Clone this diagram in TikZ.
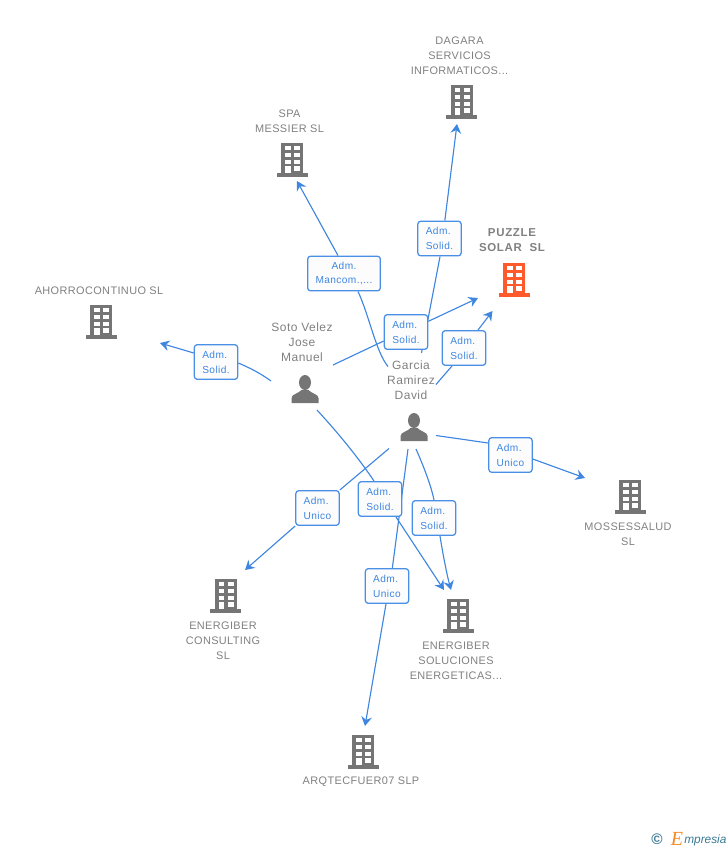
\documentclass[tikz,border=0pt]{standalone}
\usepackage{fontspec}
\setmainfont{Liberation Sans}
\usetikzlibrary{arrows.meta,backgrounds}
\newfontfamily\serifit{Liberation Serif}
\definecolor{linkblue}{HTML}{3F86E0}
\definecolor{edgeblue}{HTML}{4A8FE6}
\definecolor{icongray}{HTML}{757575}
\definecolor{namegray}{HTML}{808080}
\definecolor{orangeicon}{HTML}{FF5A2B}
\definecolor{brandteal}{HTML}{3A7A96}
\definecolor{brandorange}{HTML}{F58A1F}
\definecolor{boxfill}{HTML}{FCFCFD}
\tikzset{
  x=0.75pt,y=-0.75pt,
  link/.style={draw=linkblue,line width=0.85pt},
  linkarrow/.style={link,-{Stealth[length=7pt,width=8pt,inset=2.4pt]}},
  rolebox/.style={draw=edgeblue,line width=0.95pt,rounded corners=2.2pt,fill=boxfill,
    minimum width=32.5pt,minimum height=26pt,inner sep=0pt,align=left,
    text=linkblue,font=\fontsize{7.6}{11.2}\selectfont\addfontfeatures{LetterSpace=4}},
  widebox/.style={rolebox,minimum width=54.5pt,align=center},
  company/.style={align=center,text=namegray,inner sep=0pt,font=\fontsize{8.2}{11.2}\selectfont\addfontfeatures{LetterSpace=3.5}},
  mainco/.style={company,font=\bfseries\fontsize{8.6}{11.2}\selectfont\addfontfeatures{LetterSpace=6}},
  person/.style={align=center,text=namegray,inner sep=0pt,font=\fontsize{9}{11.2}\selectfont\addfontfeatures{LetterSpace=4}},
  pics/buildingicon/.style={code={
    \fill[#1] (-11,-16) rectangle (11,14);
    \fill[#1] (-15.5,14) rectangle (15.5,18);
    \foreach \a/\b in {-13.3/-9.3,-6/-2.3,0.7/4.7}{
      \fill[white] (-7,\a) rectangle (-1.2,\b);
      \fill[white] (2.2,\a) rectangle (8,\b);
    }
    \fill[white] (-7,7.3) rectangle (-1.2,14);
    \fill[white] (2.2,7.3) rectangle (8,11.5);
  }},
  pics/personicon/.style={code={
    \fill[icongray] (0,-6.5) ellipse (6 and 7.5);
    \fill[icongray] (-13.5,14) -- (-13.5,9) .. controls (-13.5,5) and (-6,4.5) .. (-3.5,1)
      -- (3.5,1) .. controls (6,4.5) and (13.5,5) .. (13.5,9) -- (13.5,14) -- cycle;
  }}
}
\begin{document}
\begin{tikzpicture}
\useasboundingbox (0,0) rectangle (728,850);

% free ends of connectors
\coordinate (sotoA) at (271,381); \coordinate (ahorroEnd) at (160,343);
\coordinate (garciaS) at (388,366.5); \coordinate (spaEnd) at (297,181);
\coordinate (sotoP) at (333,365); \coordinate (puzzleEndA) at (478,298);
\coordinate (garciaD) at (421.5,353); \coordinate (dagaraEnd) at (457,124);
\coordinate (garciaP) at (436,384.5); \coordinate (puzzleEndB) at (492.5,311);
\coordinate (garciaM) at (436,435.5); \coordinate (mossesEnd) at (585,478);
\coordinate (garciaC) at (389,448.5); \coordinate (consultEnd) at (245,570);
\coordinate (sotoE) at (317,410); \coordinate (solucEndA) at (444,590);
\coordinate (garciaE) at (416,449); \coordinate (solucEndB) at (451,590);
\coordinate (garciaQ) at (408,449); \coordinate (arqEnd) at (365,726);

% role boxes
\node[rolebox] (r1) at (216,362) {Adm.\\Solid.};
\node[widebox] (r2) at (344,273.5) {Adm.\\Mancom.,...};
\node[rolebox] (r3) at (439.5,238.5) {Adm.\\Solid.};
\node[rolebox] (r4) at (406,332) {Adm.\\Solid.};
\node[rolebox] (r5) at (464,348) {Adm.\\Solid.};
\node[rolebox] (r6) at (510.5,455) {Adm.\\Unico};
\node[rolebox] (r7) at (317.5,508) {Adm.\\Unico};
\node[rolebox] (r8) at (380,499) {Adm.\\Solid.};
\node[rolebox] (r9) at (434,518) {Adm.\\Solid.};
\node[rolebox] (r10) at (387,586) {Adm.\\Unico};

% connectors, under the boxes
\begin{scope}[on background layer]
\draw[link] (sotoA) .. controls (260,373) and (250,368) .. ([yshift=-0.75pt]r1.east);
\draw[linkarrow] ([yshift=6.75pt]r1.west) -- (ahorroEnd);
\draw[link] (garciaS) .. controls (376,352) and (369,315) .. ([xshift=10.5pt]r2.south);
\draw[linkarrow] ([xshift=-4.5pt]r2.north) -- (spaEnd);
\draw[link] (sotoP) -- ([yshift=-6.75pt]r4.west);
\draw[linkarrow] ([yshift=8pt]r4.east) -- (puzzleEndA);
\draw[link] (garciaD) -- ([xshift=0.4pt]r3.south);
\draw[linkarrow] ([xshift=4pt]r3.north) -- (dagaraEnd);
\draw[link] (garciaP) -- ([xshift=-9pt]r5.south);
\draw[linkarrow] ([xshift=10.5pt]r5.north) -- (puzzleEndB);
\draw[link] (garciaM) -- ([yshift=9pt]r6.west);
\draw[linkarrow] ([yshift=-3pt]r6.east) -- (mossesEnd);
\draw[link] (garciaC) -- (r7.north east);
\draw[linkarrow] (r7.south west) -- (consultEnd);
\draw[link] (sotoE) .. controls (340,435) and (360,460) .. ([xshift=-4.5pt]r8.north);
\draw[linkarrow] ([xshift=12pt]r8.south) -- (solucEndA);
\draw[link] (garciaE) .. controls (423,465) and (431,485) .. (r9.north);
\draw[linkarrow] ([xshift=4.5pt]r9.south) .. controls (443,555) and (447,575) .. (solucEndB);
\draw[link] (garciaQ) -- ([xshift=4pt]r10.north);
\draw[linkarrow] ([xshift=-0.75pt]r10.south) -- (arqEnd);
\end{scope}

% companies
\node[company] (dagara) at (459.5,56) {DAGARA\\SERVICIOS\\INFORMATICOS...};
\pic at (461.5,101) {buildingicon=icongray};
\node[company] (spa) at (289.5,121) {SPA\\MESSIER SL};
\pic at (292,159) {buildingicon=icongray};
\node[mainco] (puzzle) at (512,240.5) {PUZZLE\\SOLAR\ \ SL};
\pic at (514,279) {buildingicon=orangeicon};
\node[company] (ahorro) at (99,290.5) {AHORROCONTINUO SL};
\pic at (101,321) {buildingicon=icongray};
\node[company] (mosses) at (628,534) {MOSSESSALUD\\SL};
\pic at (630,496) {buildingicon=icongray};
\node[company] (consult) at (223,640.5) {ENERGIBER\\CONSULTING\\SL};
\pic at (225.5,595) {buildingicon=icongray};
\node[company] (soluc) at (456,660.5) {ENERGIBER\\SOLUCIONES\\ENERGETICAS...};
\pic at (458,615) {buildingicon=icongray};
\node[company] (arq) at (361,781.5) {ARQTECFUER07 SLP};
\pic at (363,751) {buildingicon=icongray};

% people
\node[person] (soto) at (302,342) {Soto Velez\\Jose\\Manuel};
\pic at (305,389) {personicon};
\node[person] (garcia) at (411,380) {Garcia\\Ramirez\\David};
\pic at (414,427) {personicon};

% credit
\node[inner sep=0pt,text=brandteal,font=\bfseries\fontsize{11.5}{12}\selectfont] (copy) at (657,839) {©};
\node[inner sep=0pt,text=brandorange,font=\serifit\itshape\fontsize{15}{15}\selectfont] (bigE) at (677,838.5) {E};
\node[inner sep=0pt,text=brandteal,font=\itshape\fontsize{8.9}{10}\selectfont,anchor=west] (brand) at (684,840) {mpresia};
\end{tikzpicture}
\end{document}
